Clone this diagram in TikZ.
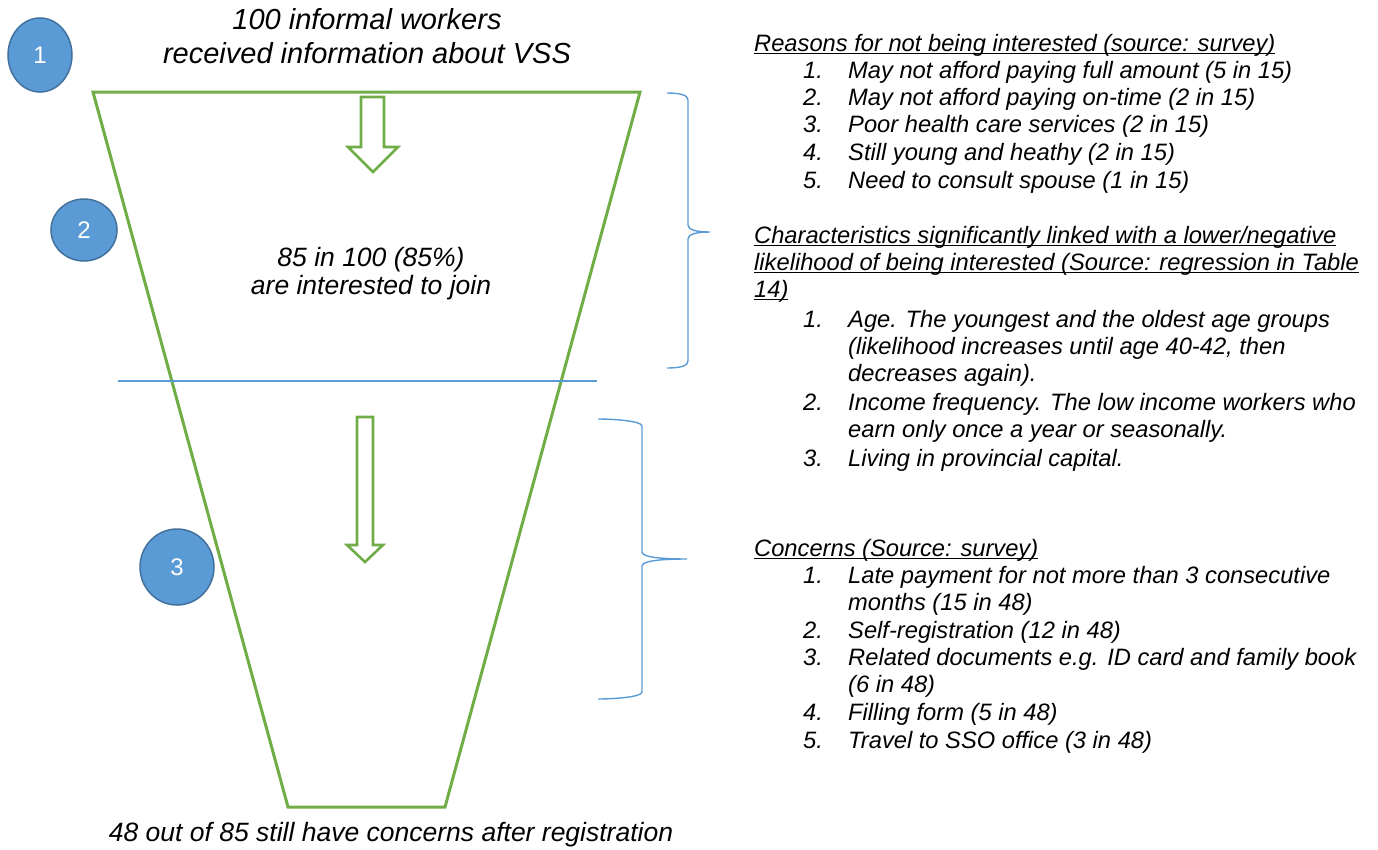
\documentclass[tikz,border=0pt]{standalone}
\usepackage{fontspec}
\setmainfont{Liberation Sans}
\usetikzlibrary{shapes.geometric}
\definecolor{fgreen}{HTML}{70AD47}
\definecolor{lblue}{HTML}{5B9BD5}
\definecolor{cblue}{HTML}{5B9BD5}
\definecolor{cedge}{HTML}{41719C}
% underline that sits just under the baseline
\newcommand\headrule[1]{\setbox0\hbox{#1}\rlap{\rule[-3pt]{\wd0}{1.3pt}}\box0}
\begin{document}
\begin{tikzpicture}[x=1pt,y=-1pt,
  funnel/.style={draw=fgreen, line width=3pt, line join=miter},
  blockarrow/.style={draw=fgreen, line width=2.6pt, fill=white, line join=miter},
  brace/.style={draw=lblue, line width=1.4pt},
  divider/.style={draw=lblue, line width=1.2pt},
  badge/.style={ellipse, fill=cblue, draw=cedge, line width=1.5pt, text=white,
    inner sep=0pt, font=\fontsize{24}{28}\selectfont},
  ttl/.style={anchor=mid, yshift=-6pt, inner sep=0pt, font=\fontsize{29}{33}\selectfont\itshape},
  mtxt/.style={anchor=mid, yshift=-6pt, inner sep=0pt, font=\fontsize{26.5}{30}\selectfont\itshape},
  txt/.style={anchor=mid west, yshift=-5.5pt, inner sep=0pt, font=\fontsize{23.7}{27}\selectfont\itshape},
]
\useasboundingbox (0,0) rectangle (1378,849);

% funnel outline and divider
\coordinate (ftl) at (93,92);
\coordinate (ftr) at (640,92);
\coordinate (fbr) at (445,807);
\coordinate (fbl) at (288,807);
\draw[funnel] (ftl) -- (ftr) -- (fbr) -- (fbl) -- cycle;
\coordinate (dl) at (118,381);
\coordinate (dr) at (597,381);
\draw[divider] (dl) -- (dr);

% block arrows
\draw[blockarrow] (361,97) -- (384,97) -- (384,147) -- (398,147) -- (373,172)
  -- (348,147) -- (361,147) -- cycle;
\draw[blockarrow] (357,417) -- (373,417) -- (373,545) -- (383,545) -- (365,562)
  -- (347,545) -- (357,545) -- cycle;

% curly braces
\draw[brace] (667,93) .. controls (680,93) and (688,95) .. (688,100) -- (688,225)
  .. controls (688,230) and (697,232) .. (710,232)
  .. controls (697,232) and (688,234) .. (688,239) -- (688,361)
  .. controls (688,366) and (680,368) .. (667,368);
\draw[brace] (598,419) .. controls (614,419) and (642,421) .. (642,426) -- (642,552)
  .. controls (642,557) and (660,559) .. (687,559)
  .. controls (660,559) and (642,561) .. (642,566) -- (642,692)
  .. controls (642,697) and (614,699) .. (598,699);

% step badges
\node[badge, minimum width=64pt, minimum height=74pt] (b1) at (40,55) {1};
\node[badge, minimum width=66pt, minimum height=62pt] (b2) at (84,230) {2};
\node[badge, minimum width=74pt, minimum height=76pt] (b3) at (177,567) {3};

% funnel texts
\node[ttl] (t1) at (367,21) {100 informal workers};
\node[ttl] (t2) at (367,55) {received information about VSS};
\node[mtxt] (m1) at (371,258) {85 in 100 (85\%)};
\node[mtxt] (m2) at (371,286) {are interested to join};
\node[mtxt] (m3) at (391,833) {48 out of 85 still have concerns after registration};

% reasons
\node[txt] (h1) at (754,43) {\headrule{Reasons for not being interested (source: survey)}};
\node[txt] (r1n) at (803,70) {1.};  \node[txt] (r1) at (848,70) {May not afford paying full amount (5 in 15)};
\node[txt] (r2n) at (803,97) {2.};  \node[txt] (r2) at (848,97) {May not afford paying on-time (2 in 15)};
\node[txt] (r3n) at (803,124) {3.}; \node[txt] (r3) at (848,124) {Poor health care services (2 in 15)};
\node[txt] (r4n) at (803,152) {4.}; \node[txt] (r4) at (848,152) {Still young and heathy (2 in 15)};
\node[txt] (r5n) at (803,180) {5.}; \node[txt] (r5) at (848,180) {Need to consult spouse (1 in 15)};

% characteristics
\node[txt] (h2a) at (754,235) {\headrule{Characteristics significantly linked with a lower/negative}};
\node[txt] (h2b) at (754,262) {\headrule{likelihood of being interested (Source: regression in Table}};
\node[txt] (h2c) at (754,289) {\headrule{14)}};
\node[txt] (c1n) at (803,319) {1.}; \node[txt] (c1a) at (848,319) {Age. The youngest and the oldest age groups};
\node[txt] (c1b) at (848,346) {(likelihood increases until age 40-42, then};
\node[txt] (c1c) at (848,373) {decreases again).};
\node[txt] (c2n) at (803,402) {2.}; \node[txt] (c2a) at (848,402) {Income frequency. The low income workers who};
\node[txt] (c2b) at (848,429) {earn only once a year or seasonally.};
\node[txt] (c3n) at (803,458) {3.}; \node[txt] (c3) at (848,458) {Living in provincial capital.};

% concerns
\node[txt] (h3) at (754,548) {\headrule{Concerns (Source: survey)}};
\node[txt] (k1n) at (803,575) {1.}; \node[txt] (k1a) at (848,575) {Late payment for not more than 3 consecutive};
\node[txt] (k1b) at (848,602) {months (15 in 48)};
\node[txt] (k2n) at (803,630) {2.}; \node[txt] (k2) at (848,630) {Self-registration (12 in 48)};
\node[txt] (k3n) at (803,657) {3.}; \node[txt] (k3a) at (848,657) {Related documents e.g. ID card and family book};
\node[txt] (k3b) at (848,684) {(6 in 48)};
\node[txt] (k4n) at (803,712) {4.}; \node[txt] (k4) at (848,712) {Filling form (5 in 48)};
\node[txt] (k5n) at (803,740) {5.}; \node[txt] (k5) at (848,740) {Travel to SSO office (3 in 48)};
\end{tikzpicture}
\end{document}
